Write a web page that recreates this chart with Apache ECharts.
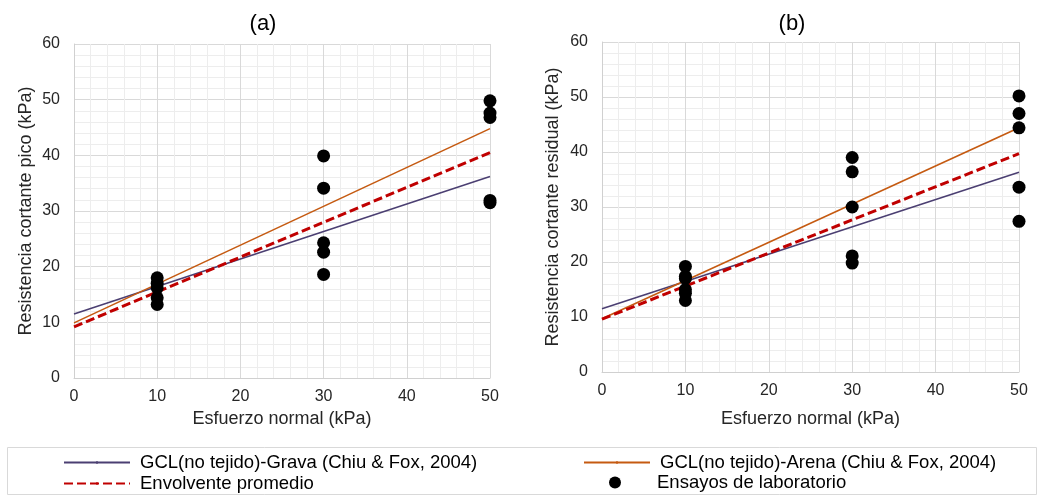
<!DOCTYPE html>
<html>
<head>
<meta charset="utf-8">
<script src="https://cdn.jsdelivr.net/npm/echarts@6/dist/echarts.min.js"></script>
<style>
  html, body { margin: 0; padding: 0; background: #fff; }
  #main { width: 1040px; height: 496px; }
</style>
</head>
<body>
<div id="main"></div>
<script>
// datos
var lineX = [0, 50];
var gravaA = [11.5, 36.2];
var arenaA = [9.9, 44.8];
var envA = [9.2, 40.5];
var gravaB = [11.5, 36.3];
var arenaB = [9.7, 44.4];
var envB = [9.6, 39.7];

var ensayosX = [10, 10, 10, 10, 10, 30, 30, 30, 30, 30, 50, 50, 50, 50, 50];
var ensayosA = [18.0, 17.0, 16.2, 14.4, 13.2, 39.9, 34.1, 24.3, 22.6, 18.6, 49.8, 47.6, 46.8, 31.9, 31.5];
var ensayosXB = [10, 10, 10, 10, 10, 10, 30, 30, 30, 30, 30, 50, 50, 50, 50, 50];
var ensayosB = [19.2, 17.4, 17.0, 15.0, 14.3, 13.0, 39.0, 36.4, 30.0, 21.1, 19.8, 50.2, 47.0, 44.4, 33.6, 27.4];

var nombres = [
    'GCL(no tejido)-Grava (Chiu & Fox, 2004)',
    'GCL(no tejido)-Arena (Chiu & Fox, 2004)',
    'Envolvente promedio',
    'Ensayos de laboratorio'
];

var font = 'Liberation Sans, Arial, sans-serif';
var myChart = echarts.init(document.getElementById('main'));

function pares(xs, ys) {
    return ys.map(function (v, i) { return [xs[i], v]; });
}

function ejeX(idx, gap) {
    return {
        type: 'value', gridIndex: idx, min: 0, max: 50, interval: 10,
        name: 'Esfuerzo normal (kPa)', nameLocation: 'middle', nameGap: gap,
        nameTextStyle: { fontFamily: font, fontSize: 18, color: '#262626' },
        axisLine: { lineStyle: { color: '#d0d0d0' } },
        axisTick: { show: false },
        axisLabel: { fontFamily: font, fontSize: 16, color: '#262626', margin: 11 },
        splitLine: { lineStyle: { color: '#d9d9d9' } },
        minorTick: { show: false, splitNumber: 5 },
        minorSplitLine: { show: true, lineStyle: { color: '#ededed' } }
    };
}

function ejeY(idx, nombre, gap) {
    return {
        type: 'value', gridIndex: idx, min: 0, max: 60, interval: 10,
        name: nombre, nameLocation: 'middle', nameGap: gap,
        nameTextStyle: { fontFamily: font, fontSize: 18, color: '#262626' },
        axisLine: { show: true, lineStyle: { color: '#d0d0d0' } },
        axisTick: { show: false },
        axisLabel: { fontFamily: font, fontSize: 16, color: '#262626', margin: 14 },
        splitLine: { lineStyle: { color: '#d9d9d9' } },
        minorTick: { show: false, splitNumber: 5 },
        minorSplitLine: { show: true, lineStyle: { color: '#ededed' } }
    };
}

function series(idx, grava, arena, env, xs, ys) {
    return [
        { name: nombres[0], type: 'line', xAxisIndex: idx, yAxisIndex: idx, symbol: 'none',
          data: pares(lineX, grava), lineStyle: { color: '#4b3f72', width: 1.6 }, itemStyle: { color: '#4b3f72' } },
        { name: nombres[1], type: 'line', xAxisIndex: idx, yAxisIndex: idx, symbol: 'none',
          data: pares(lineX, arena), lineStyle: { color: '#c55a11', width: 1.6 }, itemStyle: { color: '#c55a11' } },
        { name: nombres[2], type: 'line', xAxisIndex: idx, yAxisIndex: idx, symbol: 'none',
          data: pares(lineX, env), lineStyle: { color: '#c00000', width: 3, type: [9, 4] }, itemStyle: { color: '#c00000' } },
        { name: nombres[3], type: 'scatter', xAxisIndex: idx, yAxisIndex: idx, symbolSize: 13,
          data: pares(xs, ys), itemStyle: { color: '#000', opacity: 1 }, z: 5 }
    ];
}

function leyenda(nombre, left, top, punto) {
    var l = {
        data: [nombre], left: left, top: top, itemWidth: 66, itemHeight: 3,
        padding: 0,
        textStyle: { fontFamily: font, fontSize: 18.5, color: '#000', padding: [0, 0, 0, 5] }
    };
    if (punto) {
        // el punto va centrado en la columna de muestras
        l.data = [{ name: nombre, icon: 'circle' }];
        l.itemWidth = 12;
        l.itemHeight = 12;
        l.textStyle.padding = [0, 0, 0, 31];
    }
    return l;
}

var option = {
    animation: false,
    title: [
        { text: '(a)', left: 258, top: 8, textAlign: 'center',
          textStyle: { fontFamily: font, fontSize: 22, fontWeight: 'normal', color: '#000' } },
        { text: '(b)', left: 787, top: 8, textAlign: 'center',
          textStyle: { fontFamily: font, fontSize: 22, fontWeight: 'normal', color: '#000' } }
    ],
    grid: [
        { left: 74, right: 550, top: 44, bottom: 118 },
        { left: 602, right: 21, top: 42, bottom: 124 }
    ],
    xAxis: [ejeX(0, 32), ejeX(1, 38)],
    yAxis: [ejeY(0, 'Resistencia cortante pico (kPa)', 39), ejeY(1, 'Resistencia cortante residual (kPa)', 40)],
    legend: [
        leyenda(nombres[0], 63, 453),
        leyenda(nombres[1], 583, 453),
        leyenda(nombres[2], 63, 474),
        leyenda(nombres[3], 609, 473, true)
    ],
    graphic: [
        { type: 'rect', shape: { x: 7.5, y: 447.5, width: 1029, height: 47 },
          style: { fill: 'none', stroke: '#d9d9d9', lineWidth: 1 }, silent: true }
    ],
    series: [].concat(
        series(0, gravaA, arenaA, envA, ensayosX, ensayosA),
        series(1, gravaB, arenaB, envB, ensayosXB, ensayosB)
    )
};

myChart.setOption(option);
window.addEventListener('resize', function () {
    myChart.resize();
});
</script>
</body>
</html>
